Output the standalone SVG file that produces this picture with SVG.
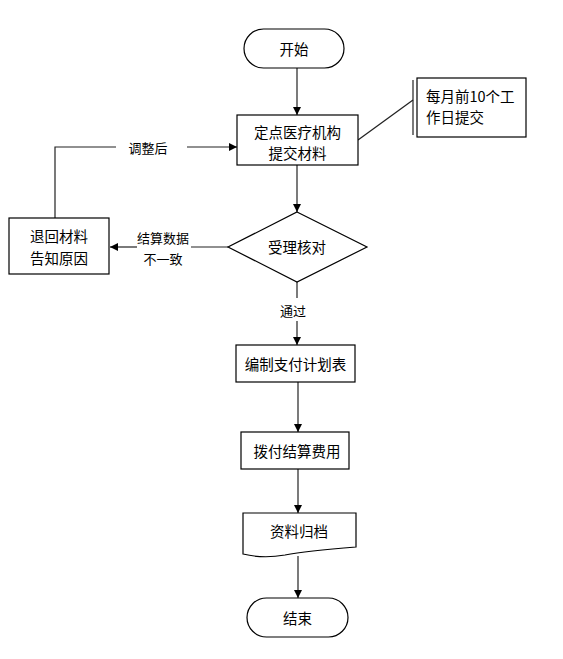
<svg xmlns="http://www.w3.org/2000/svg" width="563" height="659" viewBox="0 0 563 659">
<defs>
<marker id="arr" viewBox="0 0 10 10" refX="10" refY="5" markerWidth="8" markerHeight="8" markerUnits="userSpaceOnUse" orient="auto">
<path d="M0,0 L10,5 L0,10 Z" fill="#000"/>
</marker>
<style>
.shape{fill:#fff;stroke:#000;stroke-width:1.2}
.line{fill:none;stroke:#222;stroke-width:1.2}
.t{font-family:"Noto Sans CJK SC","Microsoft YaHei",sans-serif;font-size:14.5px;fill:#000;text-anchor:middle;dominant-baseline:central}
.tl{font-family:"Noto Sans CJK SC","Microsoft YaHei",sans-serif;font-size:14.5px;fill:#000;text-anchor:start;dominant-baseline:central}
.s{font-family:"Noto Sans CJK SC","Microsoft YaHei",sans-serif;font-size:13px;fill:#000;text-anchor:middle;dominant-baseline:central}
</style>
</defs>
<rect width="563" height="659" fill="#fff"/>
<g id="connectors">
<line class="line" x1="297" y1="68" x2="297" y2="115" marker-end="url(#arr)"/>
<line class="line" x1="297" y1="165" x2="297" y2="212" marker-end="url(#arr)"/>
<line class="line" x1="297" y1="282" x2="297" y2="298"/>
<line class="line" x1="297" y1="321" x2="297" y2="345" marker-end="url(#arr)"/>
<line class="line" x1="298" y1="382" x2="298" y2="432" marker-end="url(#arr)"/>
<line class="line" x1="298" y1="469" x2="298" y2="513" marker-end="url(#arr)"/>
<line class="line" x1="298" y1="556" x2="298" y2="598" marker-end="url(#arr)"/>
<line class="line" x1="228" y1="247" x2="191" y2="247"/>
<line class="line" x1="137" y1="247" x2="110" y2="247" marker-end="url(#arr)"/>
<polyline class="line" points="55,218 55,147 116,147"/>
<line class="line" x1="187" y1="147" x2="237" y2="147" marker-end="url(#arr)"/>
<line class="line" x1="358" y1="140" x2="413" y2="100"/>
<line class="line" x1="413" y1="80" x2="413" y2="135"/>
<text class="s" x="148" y="147">调整后</text>
<text class="s" x="163" y="237">结算数据</text>
<text class="s" x="163" y="258">不一致</text>
<text class="s" x="293" y="310">通过</text>
</g>
<g id="start">
<rect class="shape" x="244" y="29" width="100" height="39" rx="19.5"/>
<text class="t" x="294" y="48.5">开始</text>
</g>
<g id="submit">
<rect class="shape" x="237" y="115" width="121" height="50"/>
<text class="t" x="297.5" y="131">定点医疗机构</text>
<text class="t" x="297.5" y="152">提交材料</text>
</g>
<g id="note">
<rect class="shape" x="417" y="78" width="109" height="59"/>
<text class="tl" x="426" y="95">每月前10个工</text>
<text class="tl" x="426" y="116">作日提交</text>
</g>
<g id="check">
<polygon class="shape" points="297,212 367,247 297,282 228,247"/>
<text class="t" x="297" y="246">受理核对</text>
</g>
<g id="return">
<rect class="shape" x="9" y="218" width="100" height="56"/>
<text class="t" x="59" y="235">退回材料</text>
<text class="t" x="59" y="257">告知原因</text>
</g>
<g id="plan">
<rect class="shape" x="236" y="345" width="119" height="37"/>
<text class="t" x="295.5" y="363">编制支付计划表</text>
</g>
<g id="pay">
<rect class="shape" x="241" y="432" width="108" height="37"/>
<text class="t" x="297" y="450">拨付结算费用</text>
</g>
<g id="archive">
<path class="shape" d="M243,513 H356 V547 C330,549 300,552 285,555 C268,558 255,557 243,554 Z"/>
<text class="t" x="299" y="530">资料归档</text>
</g>
<g id="end">
<rect class="shape" x="247" y="598" width="101" height="39" rx="19.5"/>
<text class="t" x="297.5" y="617.5">结束</text>
</g>
</svg>
